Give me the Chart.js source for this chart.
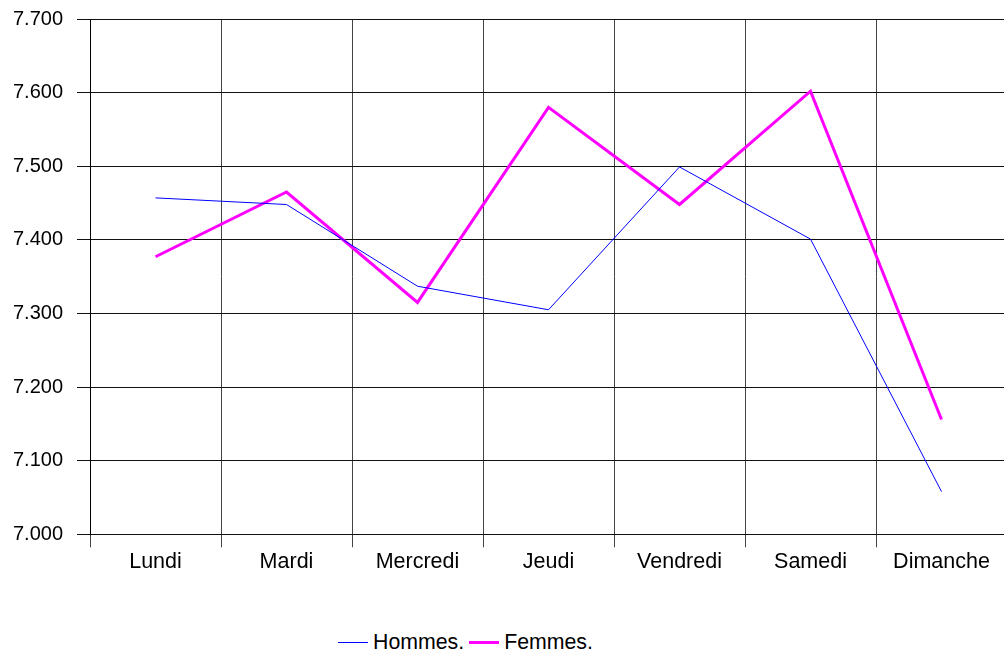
<!DOCTYPE html>
<html>
<head>
<meta charset="utf-8">
<script src="https://cdn.jsdelivr.net/npm/chart.js@4.4.1/dist/chart.umd.min.js"></script>
<style>
    html, body { margin: 0; padding: 0; background: #fff; overflow: hidden; width: 1004px; height: 655px; }
    #chartBox { position: absolute; left: 0; top: 0; width: 1007px; height: 600px; }
    #legend { position: absolute; left: 338px; top: 630px; font-family: "Liberation Sans", Arial, sans-serif; font-size: 21.3px; color: #000; white-space: nowrap; line-height: 24px; }
    #legend .item { display: inline-block; }
    #legend .swatch { display: inline-block; width: 30px; vertical-align: middle; margin-right: 5px; position: relative; top: -1px; }
</style>
</head>
<body>
<div id="chartBox"><canvas id="weekChart"></canvas></div>
<div id="legend"></div>
<script>
var days = ["Lundi", "Mardi", "Mercredi", "Jeudi", "Vendredi", "Samedi", "Dimanche"];
var hommes = [7.457, 7.448, 7.337, 7.305, 7.499, 7.401, 7.058];
var femmes = [7.377, 7.465, 7.315, 7.580, 7.448, 7.602, 7.156];
var seriesNames = ["Hommes.", "Femmes."];
var seriesColors = ["#0000ff", "#ff00ff"];
var seriesWidths = [1, 3];

var yFont = { family: "'Liberation Sans', Arial, sans-serif", size: 20 };
var xFont = { family: "'Liberation Sans', Arial, sans-serif", size: 21.5 };

new Chart(document.getElementById("weekChart"), {
    type: 'line',
    data: {
        labels: days,
        datasets: [{
            label: seriesNames[0],
            data: hommes,
            borderColor: seriesColors[0],
            borderWidth: seriesWidths[0],
            pointRadius: 0,
            tension: 0,
            fill: false
        }, {
            label: seriesNames[1],
            data: femmes,
            borderColor: seriesColors[1],
            borderWidth: seriesWidths[1],
            pointRadius: 0,
            tension: 0,
            fill: false
        }]
    },
    options: {
        responsive: true,
        maintainAspectRatio: false,
        animation: false,
        layout: { padding: { top: 19, left: 0, right: 0, bottom: 0 } },
        plugins: {
            legend: { display: false },
            tooltip: { enabled: false }
        },
        scales: {
            x: {
                offset: true,
                grid: { offset: true, color: '#444', lineWidth: 1, tickLength: 13, drawTicks: true },
                border: { color: '#111', width: 1 },
                ticks: { color: '#000', font: xFont, padding: 2, maxRotation: 0, autoSkip: false },
                afterFit: function (scale) {
                    scale.height = 65.7;
                    scale.paddingLeft = 0;
                    scale.paddingRight = 0;
                }
            },
            y: {
                min: 7.0,
                max: 7.7,
                grid: { color: '#111', lineWidth: 1, tickLength: 13 },
                border: { color: '#000', width: 1 },
                ticks: {
                    stepSize: 0.1,
                    color: '#000',
                    font: yFont,
                    padding: 14,
                    callback: function (value) { return value.toFixed(3); }
                },
                afterFit: function (scale) {
                    scale.width = 90;
                    scale.paddingTop = 0;
                    scale.paddingBottom = 0;
                }
            }
        }
    }
});

// Legend below the plot
var legend = document.getElementById("legend");
seriesNames.forEach(function (name, i) {
    var item = document.createElement("span");
    item.className = "item";
    if (i > 0) item.style.marginLeft = "5px";
    var swatch = document.createElement("span");
    swatch.className = "swatch";
    swatch.style.borderTop = seriesWidths[i] + "px solid " + seriesColors[i];
    item.appendChild(swatch);
    item.appendChild(document.createTextNode(name));
    legend.appendChild(item);
});
</script>
</body>
</html>
